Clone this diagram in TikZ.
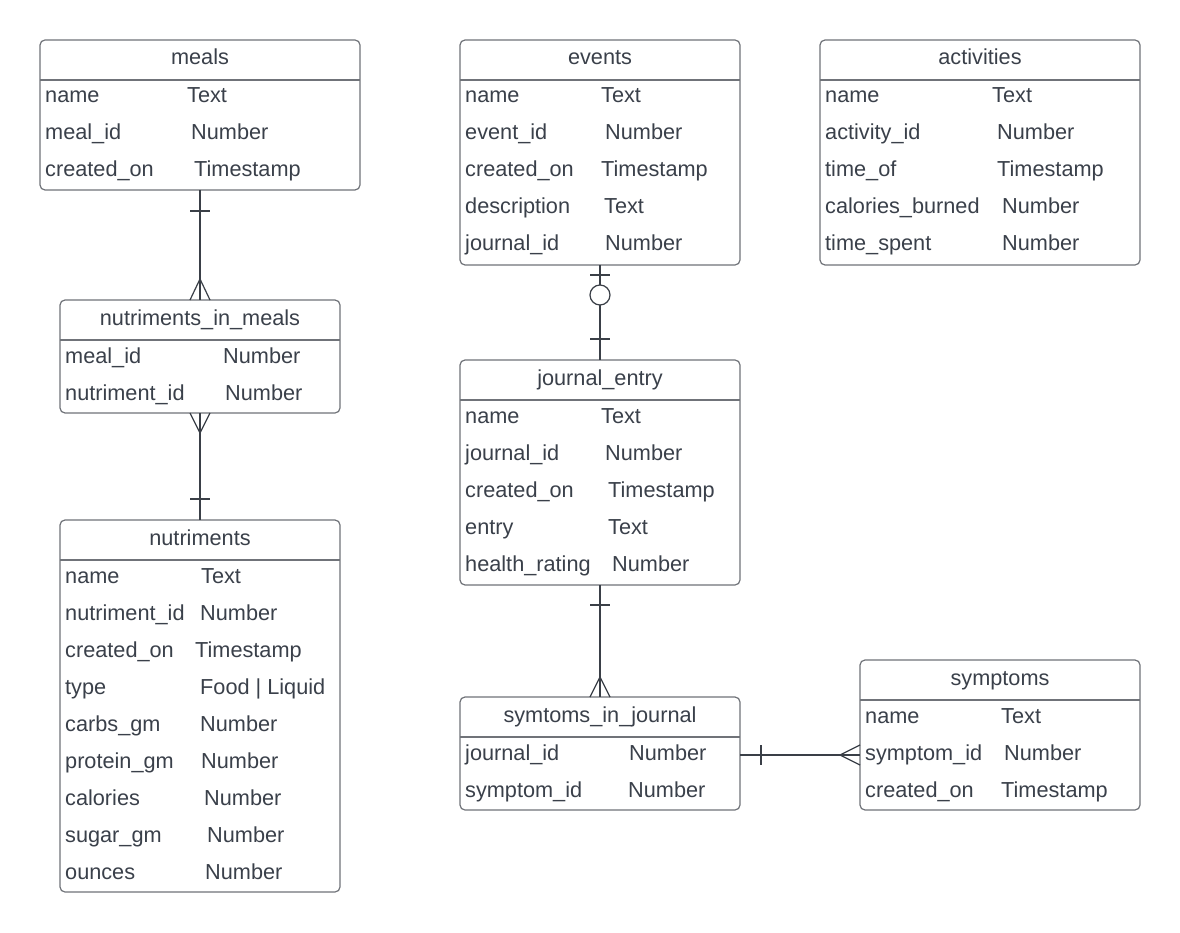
\documentclass[tikz,border=0pt]{standalone}
\usepackage{fontspec}
\setmainfont{Liberation Sans}
\usetikzlibrary{calc}
\definecolor{ink}{HTML}{3A404A}
\definecolor{edge}{HTML}{707379}
\definecolor{wire}{HTML}{3A3F47}
% one attribute row: id, x of name, x of type, baseline y, name, type
\newcommand\erow[6]{%
  \node[fld] (#1n) at (#2,#4) {#5};
  \node[fld] (#1t) at (#3,#4) {#6};}
% table frame with title and header rule
\newcommand\etable[6]{%
  \node[tbox, minimum width=#4pt, minimum height=#5pt] (#1) at (#2,#3) {};
  \node[ttl] (#1-title) at ($(#1.north)+(0,25)$) {#6};
  \draw[hdr] ($(#1.north west)+(0,40)$) -- ($(#1.north east)+(0,40)$);}
\begin{document}
\begin{tikzpicture}[x=1pt,y=-1pt,
  tbox/.style={draw=edge, line width=1.2pt, rounded corners=5pt, fill=white,
    anchor=north west, inner sep=0pt, outer sep=0pt},
  ttl/.style={anchor=base, inner sep=0pt, font=\fontsize{21.7}{25}\selectfont, text=ink},
  fld/.style={anchor=base west, inner sep=0pt, font=\fontsize{21.7}{25}\selectfont, text=ink},
  hdr/.style={draw=edge, line width=1.2pt},
  conn/.style={draw=wire, line width=1.2pt}]
\useasboundingbox (0,0) rectangle (1180,933);
\fill[white] (0,0) rectangle (1180,933);

% ---------- meals ----------
\etable{meals}{40}{40}{320}{150}{meals}
\erow{meals-1}{45}{187}{103}{name}{Text}
\erow{meals-2}{45}{191}{140}{meal\_id}{Number}
\erow{meals-3}{45}{194}{177}{created\_on}{Timestamp}

% ---------- events ----------
\etable{events}{460}{40}{280}{225}{events}
\erow{events-1}{465}{601}{103}{name}{Text}
\erow{events-2}{465}{605}{140}{event\_id}{Number}
\erow{events-3}{465}{601}{177}{created\_on}{Timestamp}
\erow{events-4}{465}{604}{214}{description}{Text}
\erow{events-5}{465}{605}{251}{journal\_id}{Number}

% ---------- activities ----------
\etable{activities}{820}{40}{320}{225}{activities}
\erow{act-1}{825}{992}{103}{name}{Text}
\erow{act-2}{825}{997}{140}{activity\_id}{Number}
\erow{act-3}{825}{997}{177}{time\_of}{Timestamp}
\erow{act-4}{825}{1002}{214}{calories\_burned}{Number}
\erow{act-5}{825}{1002}{251}{time\_spent}{Number}

% ---------- nutriments_in_meals ----------
\etable{nim}{60}{300}{280}{113}{nutriments\_in\_meals}
\erow{nim-1}{65}{223}{363}{meal\_id}{Number}
\erow{nim-2}{65}{225}{400}{nutriment\_id}{Number}

% ---------- nutriments ----------
\etable{nut}{60}{520}{280}{372}{nutriments}
\erow{nut-1}{65}{201}{583}{name}{Text}
\erow{nut-2}{65}{200}{620}{nutriment\_id}{Number}
\erow{nut-3}{65}{195}{657}{created\_on}{Timestamp}
\erow{nut-4}{65}{200}{694}{type}{Food | Liquid}
\erow{nut-5}{65}{200}{731}{carbs\_gm}{Number}
\erow{nut-6}{65}{201}{768}{protein\_gm}{Number}
\erow{nut-7}{65}{204}{805}{calories}{Number}
\erow{nut-8}{65}{207}{842}{sugar\_gm}{Number}
\erow{nut-9}{65}{205}{879}{ounces}{Number}

% ---------- journal_entry ----------
\etable{journal}{460}{360}{280}{225}{journal\_entry}
\erow{jr-1}{465}{601}{423}{name}{Text}
\erow{jr-2}{465}{605}{460}{journal\_id}{Number}
\erow{jr-3}{465}{608}{497}{created\_on}{Timestamp}
\erow{jr-4}{465}{608}{534}{entry}{Text}
\erow{jr-5}{465}{612}{571}{health\_rating}{Number}

% ---------- symtoms_in_journal ----------
\etable{sij}{460}{697}{280}{113}{symtoms\_in\_journal}
\erow{sij-1}{465}{629}{760}{journal\_id}{Number}
\erow{sij-2}{465}{628}{797}{symptom\_id}{Number}

% ---------- symptoms ----------
\etable{symptoms}{860}{660}{280}{150}{symptoms}
\erow{sym-1}{865}{1001}{723}{name}{Text}
\erow{sym-2}{865}{1004}{760}{symptom\_id}{Number}
\erow{sym-3}{865}{1001}{797}{created\_on}{Timestamp}

% ---------- relationships ----------
% meals 1 -- many nutriments_in_meals
\draw[conn] (meals.south) -- (nim.north);
\draw[conn] ($(meals.south)+(-10,21)$) -- ++(20,0);
\draw[conn] ($(nim.north)+(-10,0)$) -- ($(nim.north)+(0,-21)$) -- ($(nim.north)+(10,0)$);

% nutriments_in_meals many -- 1 nutriments
\draw[conn] (nim.south) -- (nut.north);
\draw[conn] ($(nim.south)+(-10,0)$) -- ($(nim.south)+(0,20)$) -- ($(nim.south)+(10,0)$);
\draw[conn] ($(nut.north)+(-10,-21)$) -- ++(20,0);

% events 0..1 -- 1 journal_entry
\draw[conn] (events.south) -- (journal.north);
\draw[conn] ($(events.south)+(-10,10)$) -- ++(20,0);
\draw[conn, fill=white] ($(events.south)+(0,30)$) circle (10pt);
\draw[conn] ($(journal.north)+(-10,-21)$) -- ++(20,0);

% journal_entry 1 -- many symtoms_in_journal
\draw[conn] (journal.south) -- (sij.north);
\draw[conn] ($(journal.south)+(-10,20)$) -- ++(20,0);
\draw[conn] ($(sij.north)+(-10,0)$) -- ($(sij.north)+(0,-20)$) -- ($(sij.north)+(10,0)$);

% symtoms_in_journal 1 -- many symptoms
\coordinate (sj) at ($(sij.east)+(0,1.5)$);
\draw[conn] (sj) -- (sj -| symptoms.west);
\draw[conn] ($(sj)+(21,-10)$) -- ++(0,20);
\draw[conn] ($(sj -| symptoms.west)+(0,-10)$) -- ($(sj -| symptoms.west)+(-20,0)$) -- ($(sj -| symptoms.west)+(0,10)$);
\end{tikzpicture}
\end{document}
